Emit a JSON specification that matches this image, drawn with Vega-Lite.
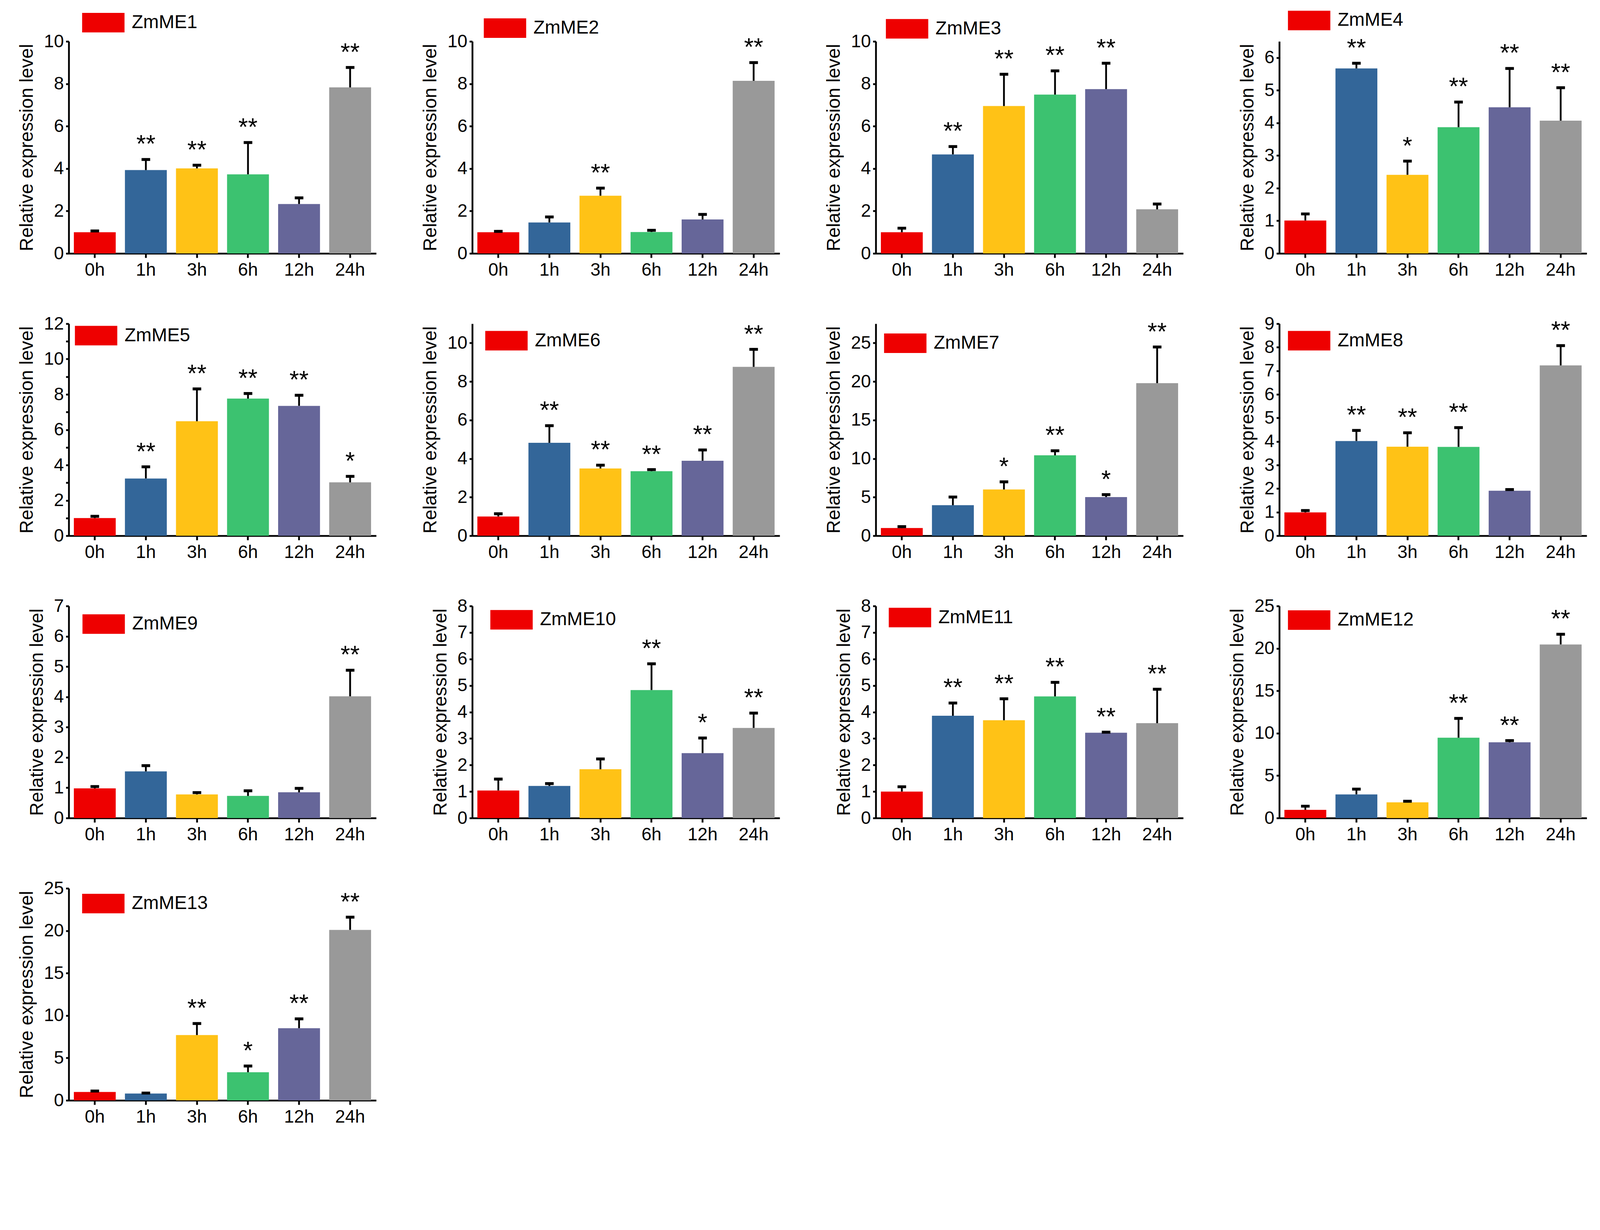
{
  "$schema": "https://vega.github.io/schema/vega-lite/v6.json",
  "background": "white",
  "padding": {"left": 45, "top": 27, "right": 20, "bottom": 10},
  "data": {
    "values": [
      {"gene": "ZmME1", "time": "0h", "mean": 1.0, "upper": 1.06, "sig": ""},
      {"gene": "ZmME1", "time": "1h", "mean": 3.93, "upper": 4.43, "sig": "**"},
      {"gene": "ZmME1", "time": "3h", "mean": 4.01, "upper": 4.16, "sig": "**"},
      {"gene": "ZmME1", "time": "6h", "mean": 3.73, "upper": 5.23, "sig": "**"},
      {"gene": "ZmME1", "time": "12h", "mean": 2.33, "upper": 2.62, "sig": ""},
      {"gene": "ZmME1", "time": "24h", "mean": 7.83, "upper": 8.77, "sig": "**"},
      {"gene": "ZmME2", "time": "0h", "mean": 1.0, "upper": 1.04, "sig": ""},
      {"gene": "ZmME2", "time": "1h", "mean": 1.46, "upper": 1.72, "sig": ""},
      {"gene": "ZmME2", "time": "3h", "mean": 2.72, "upper": 3.08, "sig": "**"},
      {"gene": "ZmME2", "time": "6h", "mean": 1.01, "upper": 1.09, "sig": ""},
      {"gene": "ZmME2", "time": "12h", "mean": 1.6, "upper": 1.84, "sig": ""},
      {"gene": "ZmME2", "time": "24h", "mean": 8.14, "upper": 9.0, "sig": "**"},
      {"gene": "ZmME3", "time": "0h", "mean": 1.0, "upper": 1.19, "sig": ""},
      {"gene": "ZmME3", "time": "1h", "mean": 4.67, "upper": 5.04, "sig": "**"},
      {"gene": "ZmME3", "time": "3h", "mean": 6.95, "upper": 8.45, "sig": "**"},
      {"gene": "ZmME3", "time": "6h", "mean": 7.49, "upper": 8.61, "sig": "**"},
      {"gene": "ZmME3", "time": "12h", "mean": 7.75, "upper": 8.97, "sig": "**"},
      {"gene": "ZmME3", "time": "24h", "mean": 2.08, "upper": 2.33, "sig": ""},
      {"gene": "ZmME4", "time": "0h", "mean": 1.01, "upper": 1.21, "sig": ""},
      {"gene": "ZmME4", "time": "1h", "mean": 5.67, "upper": 5.83, "sig": "**"},
      {"gene": "ZmME4", "time": "3h", "mean": 2.41, "upper": 2.83, "sig": "*"},
      {"gene": "ZmME4", "time": "6h", "mean": 3.87, "upper": 4.64, "sig": "**"},
      {"gene": "ZmME4", "time": "12h", "mean": 4.48, "upper": 5.67, "sig": "**"},
      {"gene": "ZmME4", "time": "24h", "mean": 4.07, "upper": 5.08, "sig": "**"},
      {"gene": "ZmME5", "time": "0h", "mean": 1.0, "upper": 1.1, "sig": ""},
      {"gene": "ZmME5", "time": "1h", "mean": 3.24, "upper": 3.9, "sig": "**"},
      {"gene": "ZmME5", "time": "3h", "mean": 6.48, "upper": 8.31, "sig": "**"},
      {"gene": "ZmME5", "time": "6h", "mean": 7.76, "upper": 8.05, "sig": "**"},
      {"gene": "ZmME5", "time": "12h", "mean": 7.35, "upper": 7.95, "sig": "**"},
      {"gene": "ZmME5", "time": "24h", "mean": 3.02, "upper": 3.36, "sig": "*"},
      {"gene": "ZmME6", "time": "0h", "mean": 1.0, "upper": 1.14, "sig": ""},
      {"gene": "ZmME6", "time": "1h", "mean": 4.82, "upper": 5.71, "sig": "**"},
      {"gene": "ZmME6", "time": "3h", "mean": 3.49, "upper": 3.66, "sig": "**"},
      {"gene": "ZmME6", "time": "6h", "mean": 3.35, "upper": 3.43, "sig": "**"},
      {"gene": "ZmME6", "time": "12h", "mean": 3.89, "upper": 4.45, "sig": "**"},
      {"gene": "ZmME6", "time": "24h", "mean": 8.76, "upper": 9.67, "sig": "**"},
      {"gene": "ZmME7", "time": "0h", "mean": 1.0, "upper": 1.18, "sig": ""},
      {"gene": "ZmME7", "time": "1h", "mean": 3.96, "upper": 5.02, "sig": ""},
      {"gene": "ZmME7", "time": "3h", "mean": 6.0, "upper": 6.99, "sig": "*"},
      {"gene": "ZmME7", "time": "6h", "mean": 10.43, "upper": 11.02, "sig": "**"},
      {"gene": "ZmME7", "time": "12h", "mean": 5.02, "upper": 5.33, "sig": "*"},
      {"gene": "ZmME7", "time": "24h", "mean": 19.79, "upper": 24.48, "sig": "**"},
      {"gene": "ZmME8", "time": "0h", "mean": 0.99, "upper": 1.07, "sig": ""},
      {"gene": "ZmME8", "time": "1h", "mean": 4.02, "upper": 4.47, "sig": "**"},
      {"gene": "ZmME8", "time": "3h", "mean": 3.78, "upper": 4.37, "sig": "**"},
      {"gene": "ZmME8", "time": "6h", "mean": 3.77, "upper": 4.59, "sig": "**"},
      {"gene": "ZmME8", "time": "12h", "mean": 1.91, "upper": 1.96, "sig": ""},
      {"gene": "ZmME8", "time": "24h", "mean": 7.23, "upper": 8.07, "sig": "**"},
      {"gene": "ZmME9", "time": "0h", "mean": 0.98, "upper": 1.04, "sig": ""},
      {"gene": "ZmME9", "time": "1h", "mean": 1.54, "upper": 1.73, "sig": ""},
      {"gene": "ZmME9", "time": "3h", "mean": 0.78, "upper": 0.84, "sig": ""},
      {"gene": "ZmME9", "time": "6h", "mean": 0.73, "upper": 0.9, "sig": ""},
      {"gene": "ZmME9", "time": "12h", "mean": 0.85, "upper": 0.98, "sig": ""},
      {"gene": "ZmME9", "time": "24h", "mean": 4.02, "upper": 4.88, "sig": "**"},
      {"gene": "ZmME10", "time": "0h", "mean": 1.04, "upper": 1.47, "sig": ""},
      {"gene": "ZmME10", "time": "1h", "mean": 1.21, "upper": 1.3, "sig": ""},
      {"gene": "ZmME10", "time": "3h", "mean": 1.84, "upper": 2.23, "sig": ""},
      {"gene": "ZmME10", "time": "6h", "mean": 4.83, "upper": 5.82, "sig": "**"},
      {"gene": "ZmME10", "time": "12h", "mean": 2.45, "upper": 3.02, "sig": "*"},
      {"gene": "ZmME10", "time": "24h", "mean": 3.4, "upper": 3.96, "sig": "**"},
      {"gene": "ZmME11", "time": "0h", "mean": 1.0, "upper": 1.18, "sig": ""},
      {"gene": "ZmME11", "time": "1h", "mean": 3.86, "upper": 4.34, "sig": "**"},
      {"gene": "ZmME11", "time": "3h", "mean": 3.69, "upper": 4.5, "sig": "**"},
      {"gene": "ZmME11", "time": "6h", "mean": 4.59, "upper": 5.12, "sig": "**"},
      {"gene": "ZmME11", "time": "12h", "mean": 3.22, "upper": 3.24, "sig": "**"},
      {"gene": "ZmME11", "time": "24h", "mean": 3.58, "upper": 4.86, "sig": "**"},
      {"gene": "ZmME12", "time": "0h", "mean": 0.97, "upper": 1.4, "sig": ""},
      {"gene": "ZmME12", "time": "1h", "mean": 2.79, "upper": 3.41, "sig": ""},
      {"gene": "ZmME12", "time": "3h", "mean": 1.85, "upper": 1.98, "sig": ""},
      {"gene": "ZmME12", "time": "6h", "mean": 9.47, "upper": 11.75, "sig": "**"},
      {"gene": "ZmME12", "time": "12h", "mean": 8.93, "upper": 9.13, "sig": "**"},
      {"gene": "ZmME12", "time": "24h", "mean": 20.47, "upper": 21.67, "sig": "**"},
      {"gene": "ZmME13", "time": "0h", "mean": 0.99, "upper": 1.1, "sig": ""},
      {"gene": "ZmME13", "time": "1h", "mean": 0.81, "upper": 0.86, "sig": ""},
      {"gene": "ZmME13", "time": "3h", "mean": 7.7, "upper": 9.06, "sig": "**"},
      {"gene": "ZmME13", "time": "6h", "mean": 3.32, "upper": 4.05, "sig": "*"},
      {"gene": "ZmME13", "time": "12h", "mean": 8.51, "upper": 9.61, "sig": "**"},
      {"gene": "ZmME13", "time": "24h", "mean": 20.1, "upper": 21.6, "sig": "**"}
    ]
  },
  "columns": 4,
  "bounds": "flush",
  "spacing": {"row": 180, "column": 246},
  "resolve": {"scale": {"color": "independent"}},
  "concat": [
    {
      "width": 787, "height": 543,
      "transform": [{"filter": "datum.gene === 'ZmME1'"}],
      "encoding": {"x": {"field": "time", "type": "nominal", "sort": ["0h", "1h", "3h", "6h", "12h", "24h"], "scale": {"paddingInner": 0.18, "paddingOuter": 0.1}, "title": null}},
      "layer": [
        {"mark": "bar", "encoding": {
          "y": {"field": "mean", "type": "quantitative", "title": "Relative expression level", "scale": {"domain": [0, 10], "nice": false}, "axis": {"values": [0, 2, 4, 6, 8, 10], "format": "d"}},
          "color": {"field": "time", "type": "nominal", "scale": {"domain": ["0h", "1h", "3h", "6h", "12h", "24h"], "range": ["#ee0000", "#336699", "#ffc216", "#3cc270", "#666699", "#999999"]},
            "legend": {"values": ["0h"], "labelExpr": "'ZmME1'", "title": null, "legendX": 63.5, "legendY": -73}}}},
        {"mark": {"type": "rule", "color": "black", "strokeWidth": 4.6}, "encoding": {"y": {"field": "mean", "type": "quantitative", "title": "Relative expression level"}, "y2": {"field": "upper"}}},
        {"mark": {"type": "tick", "color": "black", "thickness": 7.4, "size": 22, "opacity": 1}, "encoding": {"y": {"field": "upper", "type": "quantitative", "title": "Relative expression level"}}},
        {"mark": {"type": "text", "fontSize": 63, "baseline": "alphabetic", "dy": -19, "color": "black"}, "encoding": {"y": {"field": "upper", "type": "quantitative", "title": "Relative expression level"}, "text": {"field": "sig"}}}
      ]
    },
    {
      "width": 787, "height": 543,
      "transform": [{"filter": "datum.gene === 'ZmME2'"}],
      "encoding": {"x": {"field": "time", "type": "nominal", "sort": ["0h", "1h", "3h", "6h", "12h", "24h"], "scale": {"paddingInner": 0.18, "paddingOuter": 0.1}, "title": null}},
      "layer": [
        {"mark": "bar", "encoding": {
          "y": {"field": "mean", "type": "quantitative", "title": "Relative expression level", "scale": {"domain": [0, 10], "nice": false}, "axis": {"values": [0, 2, 4, 6, 8, 10], "format": "d"}},
          "color": {"field": "time", "type": "nominal", "scale": {"domain": ["0h", "1h", "3h", "6h", "12h", "24h"], "range": ["#ee0000", "#336699", "#ffc216", "#3cc270", "#666699", "#999999"]},
            "legend": {"values": ["0h"], "labelExpr": "'ZmME2'", "title": null, "legendX": 58.8, "legendY": -59}}}},
        {"mark": {"type": "rule", "color": "black", "strokeWidth": 4.6}, "encoding": {"y": {"field": "mean", "type": "quantitative", "title": "Relative expression level"}, "y2": {"field": "upper"}}},
        {"mark": {"type": "tick", "color": "black", "thickness": 7.4, "size": 22, "opacity": 1}, "encoding": {"y": {"field": "upper", "type": "quantitative", "title": "Relative expression level"}}},
        {"mark": {"type": "text", "fontSize": 63, "baseline": "alphabetic", "dy": -19, "color": "black"}, "encoding": {"y": {"field": "upper", "type": "quantitative", "title": "Relative expression level"}, "text": {"field": "sig"}}}
      ]
    },
    {
      "width": 787, "height": 543,
      "transform": [{"filter": "datum.gene === 'ZmME3'"}],
      "encoding": {"x": {"field": "time", "type": "nominal", "sort": ["0h", "1h", "3h", "6h", "12h", "24h"], "scale": {"paddingInner": 0.18, "paddingOuter": 0.1}, "title": null}},
      "layer": [
        {"mark": "bar", "encoding": {
          "y": {"field": "mean", "type": "quantitative", "title": "Relative expression level", "scale": {"domain": [0, 10], "nice": false}, "axis": {"values": [0, 2, 4, 6, 8, 10], "format": "d"}},
          "color": {"field": "time", "type": "nominal", "scale": {"domain": ["0h", "1h", "3h", "6h", "12h", "24h"], "range": ["#ee0000", "#336699", "#ffc216", "#3cc270", "#666699", "#999999"]},
            "legend": {"values": ["0h"], "labelExpr": "'ZmME3'", "title": null, "legendX": 55.1, "legendY": -57.3}}}},
        {"mark": {"type": "rule", "color": "black", "strokeWidth": 4.6}, "encoding": {"y": {"field": "mean", "type": "quantitative", "title": "Relative expression level"}, "y2": {"field": "upper"}}},
        {"mark": {"type": "tick", "color": "black", "thickness": 7.4, "size": 22, "opacity": 1}, "encoding": {"y": {"field": "upper", "type": "quantitative", "title": "Relative expression level"}}},
        {"mark": {"type": "text", "fontSize": 63, "baseline": "alphabetic", "dy": -19, "color": "black"}, "encoding": {"y": {"field": "upper", "type": "quantitative", "title": "Relative expression level"}, "text": {"field": "sig"}}}
      ]
    },
    {
      "width": 787, "height": 543,
      "transform": [{"filter": "datum.gene === 'ZmME4'"}],
      "encoding": {"x": {"field": "time", "type": "nominal", "sort": ["0h", "1h", "3h", "6h", "12h", "24h"], "scale": {"paddingInner": 0.18, "paddingOuter": 0.1}, "title": null}},
      "layer": [
        {"mark": "bar", "encoding": {
          "y": {"field": "mean", "type": "quantitative", "title": "Relative expression level", "scale": {"domain": [0, 6.5], "nice": false}, "axis": {"values": [0, 1, 2, 3, 4, 5, 6], "format": "d"}},
          "color": {"field": "time", "type": "nominal", "scale": {"domain": ["0h", "1h", "3h", "6h", "12h", "24h"], "range": ["#ee0000", "#336699", "#ffc216", "#3cc270", "#666699", "#999999"]},
            "legend": {"values": ["0h"], "labelExpr": "'ZmME4'", "title": null, "legendX": 51.4, "legendY": -78.6}}}},
        {"mark": {"type": "rule", "color": "black", "strokeWidth": 4.6}, "encoding": {"y": {"field": "mean", "type": "quantitative", "title": "Relative expression level"}, "y2": {"field": "upper"}}},
        {"mark": {"type": "tick", "color": "black", "thickness": 7.4, "size": 22, "opacity": 1}, "encoding": {"y": {"field": "upper", "type": "quantitative", "title": "Relative expression level"}}},
        {"mark": {"type": "text", "fontSize": 63, "baseline": "alphabetic", "dy": -19, "color": "black"}, "encoding": {"y": {"field": "upper", "type": "quantitative", "title": "Relative expression level"}, "text": {"field": "sig"}}}
      ]
    },
    {
      "width": 787, "height": 543,
      "transform": [{"filter": "datum.gene === 'ZmME5'"}],
      "encoding": {"x": {"field": "time", "type": "nominal", "sort": ["0h", "1h", "3h", "6h", "12h", "24h"], "scale": {"paddingInner": 0.18, "paddingOuter": 0.1}, "title": null}},
      "layer": [
        {"mark": "bar", "encoding": {
          "y": {"field": "mean", "type": "quantitative", "title": "Relative expression level", "scale": {"domain": [0, 12], "nice": false}, "axis": {"values": [0, 1, 2, 3, 4, 5, 6, 7, 8, 9, 10, 11, 12], "format": "d"}},
          "color": {"field": "time", "type": "nominal", "scale": {"domain": ["0h", "1h", "3h", "6h", "12h", "24h"], "range": ["#ee0000", "#336699", "#ffc216", "#3cc270", "#666699", "#999999"]},
            "legend": {"values": ["0h"], "labelExpr": "'ZmME5'", "title": null, "legendX": 45, "legendY": 5.5}}}},
        {"mark": {"type": "rule", "color": "black", "strokeWidth": 4.6}, "encoding": {"y": {"field": "mean", "type": "quantitative", "title": "Relative expression level"}, "y2": {"field": "upper"}}},
        {"mark": {"type": "tick", "color": "black", "thickness": 7.4, "size": 22, "opacity": 1}, "encoding": {"y": {"field": "upper", "type": "quantitative", "title": "Relative expression level"}}},
        {"mark": {"type": "text", "fontSize": 63, "baseline": "alphabetic", "dy": -19, "color": "black"}, "encoding": {"y": {"field": "upper", "type": "quantitative", "title": "Relative expression level"}, "text": {"field": "sig"}}}
      ]
    },
    {
      "width": 787, "height": 543,
      "transform": [{"filter": "datum.gene === 'ZmME6'"}],
      "encoding": {"x": {"field": "time", "type": "nominal", "sort": ["0h", "1h", "3h", "6h", "12h", "24h"], "scale": {"paddingInner": 0.18, "paddingOuter": 0.1}, "title": null}},
      "layer": [
        {"mark": "bar", "encoding": {
          "y": {"field": "mean", "type": "quantitative", "title": "Relative expression level", "scale": {"domain": [0, 11], "nice": false}, "axis": {"values": [0, 2, 4, 6, 8, 10], "format": "d"}},
          "color": {"field": "time", "type": "nominal", "scale": {"domain": ["0h", "1h", "3h", "6h", "12h", "24h"], "range": ["#ee0000", "#336699", "#ffc216", "#3cc270", "#666699", "#999999"]},
            "legend": {"values": ["0h"], "labelExpr": "'ZmME6'", "title": null, "legendX": 62.5, "legendY": 18.5}}}},
        {"mark": {"type": "rule", "color": "black", "strokeWidth": 4.6}, "encoding": {"y": {"field": "mean", "type": "quantitative", "title": "Relative expression level"}, "y2": {"field": "upper"}}},
        {"mark": {"type": "tick", "color": "black", "thickness": 7.4, "size": 22, "opacity": 1}, "encoding": {"y": {"field": "upper", "type": "quantitative", "title": "Relative expression level"}}},
        {"mark": {"type": "text", "fontSize": 63, "baseline": "alphabetic", "dy": -19, "color": "black"}, "encoding": {"y": {"field": "upper", "type": "quantitative", "title": "Relative expression level"}, "text": {"field": "sig"}}}
      ]
    },
    {
      "width": 787, "height": 543,
      "transform": [{"filter": "datum.gene === 'ZmME7'"}],
      "encoding": {"x": {"field": "time", "type": "nominal", "sort": ["0h", "1h", "3h", "6h", "12h", "24h"], "scale": {"paddingInner": 0.18, "paddingOuter": 0.1}, "title": null}},
      "layer": [
        {"mark": "bar", "encoding": {
          "y": {"field": "mean", "type": "quantitative", "title": "Relative expression level", "scale": {"domain": [0, 27.5], "nice": false}, "axis": {"values": [0, 5, 10, 15, 20, 25], "format": "d"}},
          "color": {"field": "time", "type": "nominal", "scale": {"domain": ["0h", "1h", "3h", "6h", "12h", "24h"], "range": ["#ee0000", "#336699", "#ffc216", "#3cc270", "#666699", "#999999"]},
            "legend": {"values": ["0h"], "labelExpr": "'ZmME7'", "title": null, "legendX": 50.5, "legendY": 25}}}},
        {"mark": {"type": "rule", "color": "black", "strokeWidth": 4.6}, "encoding": {"y": {"field": "mean", "type": "quantitative", "title": "Relative expression level"}, "y2": {"field": "upper"}}},
        {"mark": {"type": "tick", "color": "black", "thickness": 7.4, "size": 22, "opacity": 1}, "encoding": {"y": {"field": "upper", "type": "quantitative", "title": "Relative expression level"}}},
        {"mark": {"type": "text", "fontSize": 63, "baseline": "alphabetic", "dy": -19, "color": "black"}, "encoding": {"y": {"field": "upper", "type": "quantitative", "title": "Relative expression level"}, "text": {"field": "sig"}}}
      ]
    },
    {
      "width": 787, "height": 543,
      "transform": [{"filter": "datum.gene === 'ZmME8'"}],
      "encoding": {"x": {"field": "time", "type": "nominal", "sort": ["0h", "1h", "3h", "6h", "12h", "24h"], "scale": {"paddingInner": 0.18, "paddingOuter": 0.1}, "title": null}},
      "layer": [
        {"mark": "bar", "encoding": {
          "y": {"field": "mean", "type": "quantitative", "title": "Relative expression level", "scale": {"domain": [0, 9], "nice": false}, "axis": {"values": [0, 1, 2, 3, 4, 5, 6, 7, 8, 9], "format": "d"}},
          "color": {"field": "time", "type": "nominal", "scale": {"domain": ["0h", "1h", "3h", "6h", "12h", "24h"], "range": ["#ee0000", "#336699", "#ffc216", "#3cc270", "#666699", "#999999"]},
            "legend": {"values": ["0h"], "labelExpr": "'ZmME8'", "title": null, "legendX": 51.4, "legendY": 18.5}}}},
        {"mark": {"type": "rule", "color": "black", "strokeWidth": 4.6}, "encoding": {"y": {"field": "mean", "type": "quantitative", "title": "Relative expression level"}, "y2": {"field": "upper"}}},
        {"mark": {"type": "tick", "color": "black", "thickness": 7.4, "size": 22, "opacity": 1}, "encoding": {"y": {"field": "upper", "type": "quantitative", "title": "Relative expression level"}}},
        {"mark": {"type": "text", "fontSize": 63, "baseline": "alphabetic", "dy": -19, "color": "black"}, "encoding": {"y": {"field": "upper", "type": "quantitative", "title": "Relative expression level"}, "text": {"field": "sig"}}}
      ]
    },
    {
      "width": 787, "height": 543,
      "transform": [{"filter": "datum.gene === 'ZmME9'"}],
      "encoding": {"x": {"field": "time", "type": "nominal", "sort": ["0h", "1h", "3h", "6h", "12h", "24h"], "scale": {"paddingInner": 0.18, "paddingOuter": 0.1}, "title": null}},
      "layer": [
        {"mark": "bar", "encoding": {
          "y": {"field": "mean", "type": "quantitative", "title": "Relative expression level", "scale": {"domain": [0, 7], "nice": false}, "axis": {"values": [0, 1, 2, 3, 4, 5, 6, 7], "format": "d"}},
          "color": {"field": "time", "type": "nominal", "scale": {"domain": ["0h", "1h", "3h", "6h", "12h", "24h"], "range": ["#ee0000", "#336699", "#ffc216", "#3cc270", "#666699", "#999999"]},
            "legend": {"values": ["0h"], "labelExpr": "'ZmME9'", "title": null, "legendX": 64.4, "legendY": 21.3}}}},
        {"mark": {"type": "rule", "color": "black", "strokeWidth": 4.6}, "encoding": {"y": {"field": "mean", "type": "quantitative", "title": "Relative expression level"}, "y2": {"field": "upper"}}},
        {"mark": {"type": "tick", "color": "black", "thickness": 7.4, "size": 22, "opacity": 1}, "encoding": {"y": {"field": "upper", "type": "quantitative", "title": "Relative expression level"}}},
        {"mark": {"type": "text", "fontSize": 63, "baseline": "alphabetic", "dy": -19, "color": "black"}, "encoding": {"y": {"field": "upper", "type": "quantitative", "title": "Relative expression level"}, "text": {"field": "sig"}}}
      ]
    },
    {
      "width": 787, "height": 543,
      "transform": [{"filter": "datum.gene === 'ZmME10'"}],
      "encoding": {"x": {"field": "time", "type": "nominal", "sort": ["0h", "1h", "3h", "6h", "12h", "24h"], "scale": {"paddingInner": 0.18, "paddingOuter": 0.1}, "title": null}},
      "layer": [
        {"mark": "bar", "encoding": {
          "y": {"field": "mean", "type": "quantitative", "title": "Relative expression level", "scale": {"domain": [0, 8], "nice": false}, "axis": {"values": [0, 1, 2, 3, 4, 5, 6, 7, 8], "format": "d"}},
          "color": {"field": "time", "type": "nominal", "scale": {"domain": ["0h", "1h", "3h", "6h", "12h", "24h"], "range": ["#ee0000", "#336699", "#ffc216", "#3cc270", "#666699", "#999999"]},
            "legend": {"values": ["0h"], "labelExpr": "'ZmME10'", "title": null, "legendX": 75.5, "legendY": 10.2}}}},
        {"mark": {"type": "rule", "color": "black", "strokeWidth": 4.6}, "encoding": {"y": {"field": "mean", "type": "quantitative", "title": "Relative expression level"}, "y2": {"field": "upper"}}},
        {"mark": {"type": "tick", "color": "black", "thickness": 7.4, "size": 22, "opacity": 1}, "encoding": {"y": {"field": "upper", "type": "quantitative", "title": "Relative expression level"}}},
        {"mark": {"type": "text", "fontSize": 63, "baseline": "alphabetic", "dy": -19, "color": "black"}, "encoding": {"y": {"field": "upper", "type": "quantitative", "title": "Relative expression level"}, "text": {"field": "sig"}}}
      ]
    },
    {
      "width": 787, "height": 543,
      "transform": [{"filter": "datum.gene === 'ZmME11'"}],
      "encoding": {"x": {"field": "time", "type": "nominal", "sort": ["0h", "1h", "3h", "6h", "12h", "24h"], "scale": {"paddingInner": 0.18, "paddingOuter": 0.1}, "title": null}},
      "layer": [
        {"mark": "bar", "encoding": {
          "y": {"field": "mean", "type": "quantitative", "title": "Relative expression level", "scale": {"domain": [0, 8], "nice": false}, "axis": {"values": [0, 1, 2, 3, 4, 5, 6, 7, 8], "format": "d"}},
          "color": {"field": "time", "type": "nominal", "scale": {"domain": ["0h", "1h", "3h", "6h", "12h", "24h"], "range": ["#ee0000", "#336699", "#ffc216", "#3cc270", "#666699", "#999999"]},
            "legend": {"values": ["0h"], "labelExpr": "'ZmME11'", "title": null, "legendX": 62.5, "legendY": 4.6}}}},
        {"mark": {"type": "rule", "color": "black", "strokeWidth": 4.6}, "encoding": {"y": {"field": "mean", "type": "quantitative", "title": "Relative expression level"}, "y2": {"field": "upper"}}},
        {"mark": {"type": "tick", "color": "black", "thickness": 7.4, "size": 22, "opacity": 1}, "encoding": {"y": {"field": "upper", "type": "quantitative", "title": "Relative expression level"}}},
        {"mark": {"type": "text", "fontSize": 63, "baseline": "alphabetic", "dy": -19, "color": "black"}, "encoding": {"y": {"field": "upper", "type": "quantitative", "title": "Relative expression level"}, "text": {"field": "sig"}}}
      ]
    },
    {
      "width": 787, "height": 543,
      "transform": [{"filter": "datum.gene === 'ZmME12'"}],
      "encoding": {"x": {"field": "time", "type": "nominal", "sort": ["0h", "1h", "3h", "6h", "12h", "24h"], "scale": {"paddingInner": 0.18, "paddingOuter": 0.1}, "title": null}},
      "layer": [
        {"mark": "bar", "encoding": {
          "y": {"field": "mean", "type": "quantitative", "title": "Relative expression level", "scale": {"domain": [0, 25], "nice": false}, "axis": {"values": [0, 5, 10, 15, 20, 25], "format": "d"}},
          "color": {"field": "time", "type": "nominal", "scale": {"domain": ["0h", "1h", "3h", "6h", "12h", "24h"], "range": ["#ee0000", "#336699", "#ffc216", "#3cc270", "#666699", "#999999"]},
            "legend": {"values": ["0h"], "labelExpr": "'ZmME12'", "title": null, "legendX": 51.4, "legendY": 11.1}}}},
        {"mark": {"type": "rule", "color": "black", "strokeWidth": 4.6}, "encoding": {"y": {"field": "mean", "type": "quantitative", "title": "Relative expression level"}, "y2": {"field": "upper"}}},
        {"mark": {"type": "tick", "color": "black", "thickness": 7.4, "size": 22, "opacity": 1}, "encoding": {"y": {"field": "upper", "type": "quantitative", "title": "Relative expression level"}}},
        {"mark": {"type": "text", "fontSize": 63, "baseline": "alphabetic", "dy": -19, "color": "black"}, "encoding": {"y": {"field": "upper", "type": "quantitative", "title": "Relative expression level"}, "text": {"field": "sig"}}}
      ]
    },
    {
      "width": 787, "height": 543,
      "transform": [{"filter": "datum.gene === 'ZmME13'"}],
      "encoding": {"x": {"field": "time", "type": "nominal", "sort": ["0h", "1h", "3h", "6h", "12h", "24h"], "scale": {"paddingInner": 0.18, "paddingOuter": 0.1}, "title": null}},
      "layer": [
        {"mark": "bar", "encoding": {
          "y": {"field": "mean", "type": "quantitative", "title": "Relative expression level", "scale": {"domain": [0, 25], "nice": false}, "axis": {"values": [0, 5, 10, 15, 20, 25], "format": "d"}},
          "color": {"field": "time", "type": "nominal", "scale": {"domain": ["0h", "1h", "3h", "6h", "12h", "24h"], "range": ["#ee0000", "#336699", "#ffc216", "#3cc270", "#666699", "#999999"]},
            "legend": {"values": ["0h"], "labelExpr": "'ZmME13'", "title": null, "legendX": 63.5, "legendY": 13.9}}}},
        {"mark": {"type": "rule", "color": "black", "strokeWidth": 4.6}, "encoding": {"y": {"field": "mean", "type": "quantitative", "title": "Relative expression level"}, "y2": {"field": "upper"}}},
        {"mark": {"type": "tick", "color": "black", "thickness": 7.4, "size": 22, "opacity": 1}, "encoding": {"y": {"field": "upper", "type": "quantitative", "title": "Relative expression level"}}},
        {"mark": {"type": "text", "fontSize": 63, "baseline": "alphabetic", "dy": -19, "color": "black"}, "encoding": {"y": {"field": "upper", "type": "quantitative", "title": "Relative expression level"}, "text": {"field": "sig"}}}
      ]
    }
  ],
  "config": {
    "font": "Liberation Sans",
    "view": {"stroke": null},
    "axis": {"grid": false, "domainColor": "black", "domainWidth": 4.6, "tickColor": "black", "tickWidth": 4.6, "labelColor": "black", "labelFontSize": 46, "titleFontSize": 48, "titleFontWeight": "normal", "titleColor": "black"},
    "axisX": {"tickSize": 11, "labelPadding": 9, "labelAngle": 0},
    "axisY": {"tickSize": 7.4, "labelPadding": 5.5, "titlePadding": 18.5},
    "legend": {"orient": "none", "symbolType": "M-2.17,-1H2.17V1H-2.17Z", "symbolSize": 2500, "symbolStrokeWidth": 0, "labelOffset": 47.75, "labelFontSize": 48, "labelColor": "black", "padding": 0, "labelLimit": 1000}
  }
}
